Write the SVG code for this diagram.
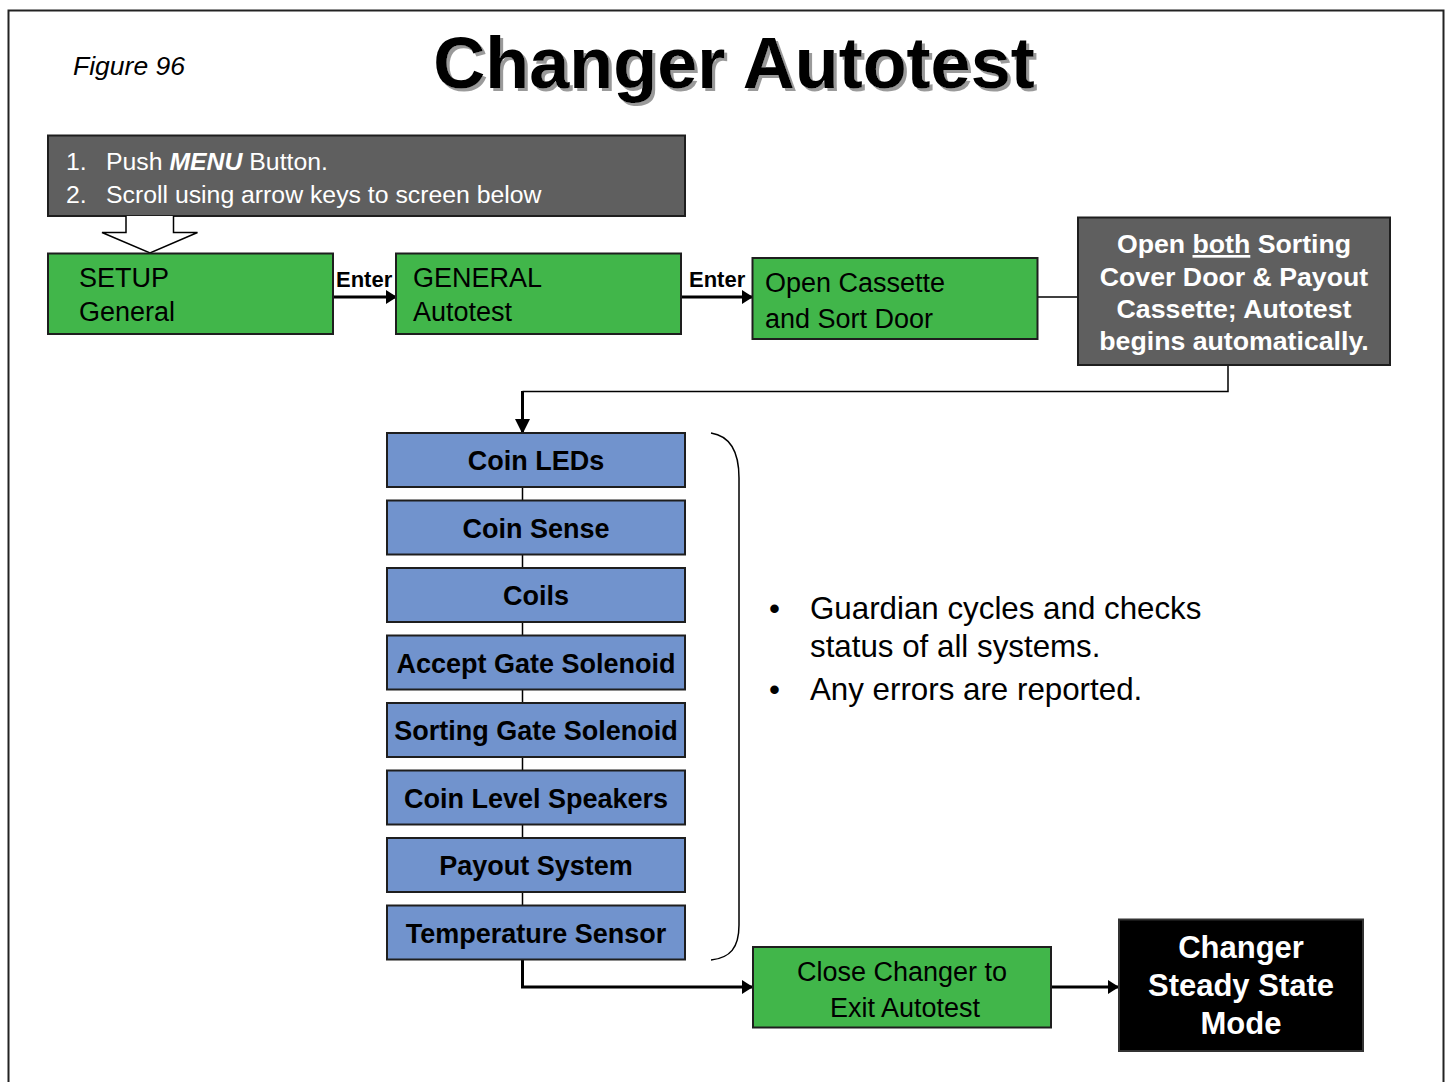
<svg xmlns="http://www.w3.org/2000/svg" width="1448" height="1082" viewBox="0 0 1448 1082">
<style>
text{font-family:"Liberation Sans",Arial,sans-serif;}
.green{fill:#41b64a;stroke:#1e1e1e;stroke-width:2;}
.blue{fill:#7193cd;stroke:#1e1e1e;stroke-width:2;}
.gray{fill:#5f5f5f;stroke:#1e1e1e;stroke-width:2;}
.black{fill:#000;stroke:#333;stroke-width:2;}
.t{font-size:27px;fill:#000;}
.bt{font-size:27px;font-weight:bold;fill:#000;text-anchor:middle;}
.wt{font-size:26.7px;font-weight:bold;fill:#fff;text-anchor:middle;}
.line{fill:none;stroke:#000;}
</style>
<defs>
<marker id="ah" viewBox="0 0 11 14" refX="10" refY="7" markerWidth="11" markerHeight="14" markerUnits="userSpaceOnUse" orient="auto">
<path d="M0,0 L11,7 L0,14 Z" fill="#000"/>
</marker>
<marker id="ahd" viewBox="0 0 15 15" refX="14" refY="7.5" markerWidth="15" markerHeight="15" markerUnits="userSpaceOnUse" orient="auto">
<path d="M0,0 L15,7.5 L0,15 Z" fill="#000"/>
</marker>
<filter id="shadow" x="-5%" y="-20%" width="110%" height="140%">
<feDropShadow dx="3" dy="3" stdDeviation="0.6" flood-color="#9a9a9a" flood-opacity="1"/>
</filter>
</defs>
<rect width="1448" height="1082" fill="#fff"/>
<path d="M8.5,1090 L8.5,10.5 L1443.5,10.5 L1443.5,1090" fill="none" stroke="#222" stroke-width="2"/>

<g id="title">
<text x="734" y="88" font-size="72" font-weight="bold" text-anchor="middle" fill="#000" filter="url(#shadow)">Changer Autotest</text>
</g>
<text x="73" y="75" font-size="26.5" font-style="italic" fill="#000">Figure 96</text>

<g id="connectors">
<path class="line" d="M334,297 L396,297" stroke-width="3" marker-end="url(#ah)"/>
<path class="line" d="M682,297 L752,297" stroke-width="3" marker-end="url(#ah)"/>
<path class="line" d="M1038,297 L1078,297" stroke-width="1.5"/>
<path class="line" d="M1228,365 L1228,391.5 L522.5,391.5" stroke-width="1.5"/>
<path class="line" d="M522.5,391 L522.5,433" stroke-width="3" marker-end="url(#ahd)"/>
<path class="line" d="M522.5,487 L522.5,906" stroke-width="1.5"/>
<path class="line" d="M522.5,960 L522.5,987 L752,987" stroke-width="3" marker-end="url(#ah)"/>
<path class="line" d="M1051,987 L1118,987" stroke-width="3" marker-end="url(#ah)"/>
<path class="line" d="M711,433 C730,436 739,452 739,478 L739,925 C739,948 730,958 711,960" stroke-width="1.5"/>
</g>

<g id="instructions">
<rect class="gray" x="48" y="135.5" width="637" height="80.5"/>
<text x="66" y="170" font-size="24.8" fill="#fff">1.<tspan x="106">Push </tspan><tspan font-weight="bold" font-style="italic">MENU</tspan> Button.</text>
<text x="66" y="203" font-size="24.8" fill="#fff">2.<tspan x="106">Scroll using arrow keys to screen below</tspan></text>
</g>
<path id="hollow-arrow" d="M126,216 L126,232.5 L102,232.5 L150,253 L197.5,232.5 L173.5,232.5 L173.5,216" fill="#fff" stroke="#000" stroke-width="1.5"/>

<g id="setup">
<rect class="green" x="48" y="253.5" width="285" height="80.5"/>
<text class="t" x="79" y="287">SETUP</text>
<text class="t" x="79" y="321">General</text>
</g>
<text x="336" y="287" font-size="22" font-weight="bold" fill="#000">Enter</text>
<g id="general">
<rect class="green" x="396" y="253.5" width="285" height="80.5"/>
<text class="t" x="413" y="287">GENERAL</text>
<text class="t" x="413" y="321">Autotest</text>
</g>
<text x="689" y="287" font-size="22" font-weight="bold" fill="#000">Enter</text>
<g id="open-cassette">
<rect class="green" x="752.5" y="258" width="285" height="81"/>
<text class="t" x="765" y="292">Open Cassette</text>
<text class="t" x="765" y="328">and Sort Door</text>
</g>
<g id="open-both">
<rect class="gray" x="1078" y="217.5" width="312" height="147.5"/>
<text class="wt" x="1234" y="253">Open <tspan text-decoration="underline">both</tspan> Sorting</text>
<text class="wt" x="1234" y="286">Cover Door &amp; Payout</text>
<text class="wt" x="1234" y="318">Cassette; Autotest</text>
<text class="wt" x="1234" y="350">begins automatically.</text>
</g>

<g id="coin-leds"><rect class="blue" x="387" y="433" width="298" height="54"/><text class="bt" x="536" y="470">Coin LEDs</text></g>
<g id="coin-sense"><rect class="blue" x="387" y="500.5" width="298" height="54"/><text class="bt" x="536" y="537.5">Coin Sense</text></g>
<g id="coils"><rect class="blue" x="387" y="568" width="298" height="54"/><text class="bt" x="536" y="605">Coils</text></g>
<g id="accept-gate"><rect class="blue" x="387" y="635.5" width="298" height="54"/><text class="bt" x="536" y="672.5">Accept Gate Solenoid</text></g>
<g id="sorting-gate"><rect class="blue" x="387" y="703" width="298" height="54"/><text class="bt" x="536" y="740">Sorting Gate Solenoid</text></g>
<g id="coin-level"><rect class="blue" x="387" y="770.5" width="298" height="54"/><text class="bt" x="536" y="807.5">Coin Level Speakers</text></g>
<g id="payout"><rect class="blue" x="387" y="838" width="298" height="54"/><text class="bt" x="536" y="875">Payout System</text></g>
<g id="temperature"><rect class="blue" x="387" y="905.5" width="298" height="54"/><text class="bt" x="536" y="942.5">Temperature Sensor</text></g>

<g id="notes" font-size="31.3" fill="#000">
<text x="769" y="619">•</text>
<text x="810" y="619">Guardian cycles and checks</text>
<text x="810" y="657">status of all systems.</text>
<text x="769" y="700">•</text>
<text x="810" y="700">Any errors are reported.</text>
</g>

<g id="close-changer">
<rect class="green" x="753" y="947" width="298" height="80.5"/>
<text class="t" x="902" y="981" text-anchor="middle">Close Changer to</text>
<text class="t" x="905" y="1017" text-anchor="middle">Exit Autotest</text>
</g>
<g id="steady-state">
<rect class="black" x="1119" y="919.5" width="244" height="131.5"/>
<text x="1241" y="958" font-size="31" font-weight="bold" fill="#fff" text-anchor="middle">Changer</text>
<text x="1241" y="996" font-size="31" font-weight="bold" fill="#fff" text-anchor="middle">Steady State</text>
<text x="1241" y="1034" font-size="31" font-weight="bold" fill="#fff" text-anchor="middle">Mode</text>
</g>
</svg>
